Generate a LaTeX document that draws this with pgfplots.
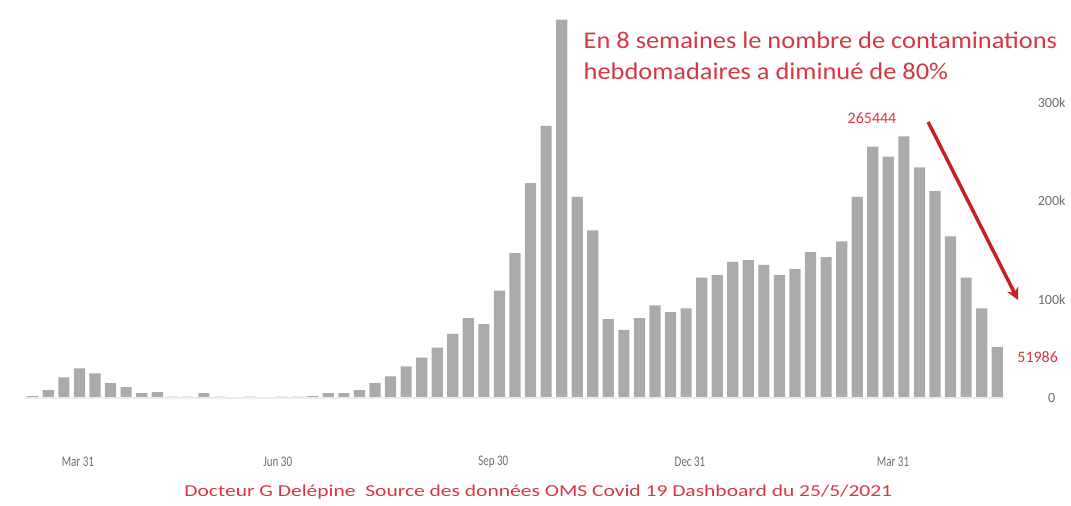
\documentclass[border=0pt]{standalone}
\usepackage{pgfplots}
\pgfplotsset{compat=1.18}
\usetikzlibrary{arrows.meta}
\usepackage{graphicx}
\usepackage{fontspec}
\setmainfont{Carlito}
\definecolor{bargray}{RGB}{170,170,170}
\definecolor{lblgray}{RGB}{110,110,110}
\definecolor{txtred}{RGB}{215,55,65}
\definecolor{arrred}{RGB}{200,30,40}
\begin{document}
\begin{tikzpicture}
\path[use as bounding box] (0,0) rectangle (803.25pt,379.5pt);
\begin{axis}[
  at={(18.75pt,81pt)}, anchor=south west,
  scale only axis, width=735pt, height=288.3pt,
  xmin=-0.5, xmax=62.5, ymin=0, ymax=390000,
  clip=false,
  axis line style={draw=none},
  major tick length=0pt,
  xtick={2.9,15.75,29.6,42.25,55.3},
  xticklabels={\scalebox{0.75}[1]{Mar 31},\scalebox{0.75}[1]{Jun 30},\scalebox{0.75}[1]{Sep 30},\scalebox{0.75}[1]{Dec 31},\scalebox{0.75}[1]{Mar 31}},
  xticklabel style={font=\fontsize{11}{12}\selectfont, text=lblgray, anchor=center, yshift=-48pt},
  ytick={0,100000,200000,300000},
  yticklabels={0,100k,200k,300k},
  yticklabel pos=right,
  yticklabel style={font=\fontsize{10.5}{12}\selectfont, text=lblgray, anchor=center, xshift=35pt},
  scaled y ticks=false,
]
\addplot[ybar, bar width=0.72, fill=bargray, draw=none] coordinates {
(0,2000) (1,8000) (2,21000) (3,30000) (4,25000) (5,15000) (6,11000) (7,5000)
(8,6000) (9,1500) (10,1500) (11,5000) (12,1500) (13,1000) (14,1500) (15,1000)
(16,1500) (17,1500) (18,2000) (19,5000) (20,5000) (21,8000) (22,15000) (23,22000)
(24,32000) (25,41000) (26,51000) (27,65000) (28,81000) (29,75000) (30,109000) (31,147000)
(32,218000) (33,276000) (34,384000) (35,204000) (36,170000) (37,80000) (38,69000) (39,81000)
(40,94000) (41,87000) (42,91000) (43,122000) (44,125000) (45,138000) (46,140000) (47,135000)
(48,125000) (49,131000) (50,148000) (51,143000) (52,159000) (53,204000) (54,255000) (55,245000)
(56,265444) (57,234000) (58,210000) (59,164000) (60,122000) (61,91000) (62,51986)
};
\draw[gray!15, line width=0.8pt] (axis cs:-0.5,0) -- (axis cs:62.5,0);
\node[anchor=west, text=txtred, font=\fontsize{18}{20}\selectfont, inner sep=0pt] at (axis cs:35.4,363000) {\scalebox{1.1}[1]{En 8 semaines le nombre de contaminations}};
\node[anchor=west, text=txtred, font=\fontsize{18}{20}\selectfont, inner sep=0pt] at (axis cs:35.4,331000) {\scalebox{1.1}[1]{hebdomadaires a diminué de 80\%}};
\node[text=txtred, font=\fontsize{12}{13}\selectfont, inner sep=0pt] at (axis cs:53.95,284000) {265444};
\node[text=txtred, font=\fontsize{12}{13}\selectfont, inner sep=0pt] at (axis cs:64.6,41500) {51986};
\draw[arrred, line width=2.6pt, -{Stealth[length=9pt,width=9pt]}] (axis cs:57.56,280000) -- (axis cs:63.34,99400);
\node[text=txtred, font=\fontsize{12.5}{13}\selectfont, inner sep=0pt] at (axis cs:32.5,-95400) {\scalebox{1.29}[1]{Docteur G Delépine\ \ Source des données OMS Covid 19 Dashboard du 25/5/2021}};
\end{axis}
\end{tikzpicture}
\end{document}
